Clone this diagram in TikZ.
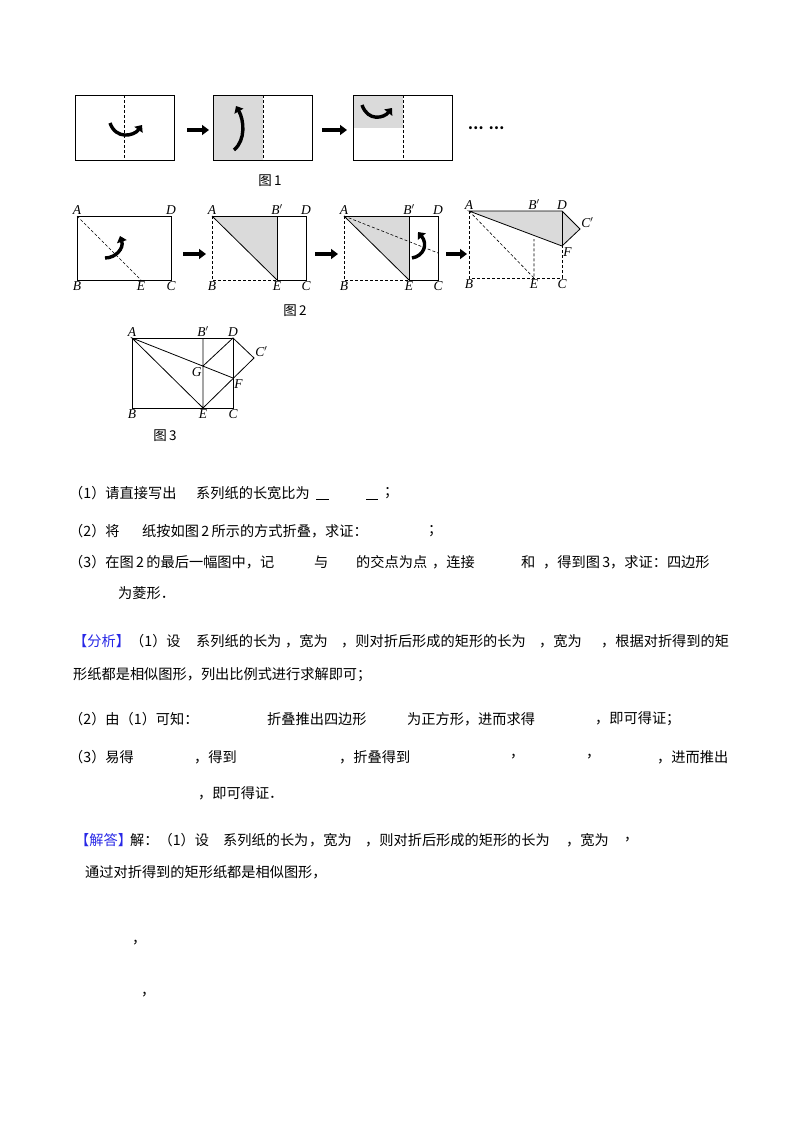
\documentclass[tikz,border=0pt]{standalone}
\usepackage{fontspec}
\setmainfont{Liberation Serif}
\newfontfamily\cjk{Noto Sans CJK SC}
\usetikzlibrary{arrows.meta}
\definecolor{fold}{RGB}{218,218,218}
\definecolor{tagblue}{RGB}{40,40,230}
\newcommand{\pr}{$'$}
\begin{document}
\begin{tikzpicture}[x=1pt,y=-1pt,
  box/.style={draw,line width=0.8pt},
  fl/.style={densely dashed,line width=0.6pt},
  ln/.style={line width=0.8pt},
  blk/.style={line width=3.5pt,-{Triangle[length=7pt,width=10pt]}},
  curv/.style={line width=3.4pt,-{Triangle[length=6pt,width=10pt]}},
  lab/.style={font=\itshape\fontsize{13.5}{13.5}\selectfont,inner sep=1.2pt},
  figcap/.style={font=\cjk\fontsize{13.5}{13.5}\selectfont,inner sep=0pt},
  tx/.style={font=\cjk\fontsize{14.2}{15}\selectfont,inner sep=0pt,anchor=west}]
\useasboundingbox (0,0) rectangle (800,1132);
% ---------- Figure 1
\draw[box] (75,95) rectangle (174,160);
\draw[fl] (124,95) -- (124,160);
\draw[curv] (110,123) .. controls (116,140) and (134,136) .. (142,125);
\fill[fold] (213,95) rectangle (263,160);
\draw[box] (213,95) rectangle (312,160);
\draw[fl] (263,95) -- (263,160);
\draw[curv] (234,150) .. controls (246,140) and (244,120) .. (236,106);
\fill[fold] (353,95) rectangle (403,128);
\draw[box] (353,95) rectangle (452,160);
\draw[fl] (403,95) -- (403,160);
\draw[curv] (362,105) .. controls (368,122) and (384,118) .. (392,108);
\coordinate (a1s) at (187,130); \coordinate (a1e) at (209,130);
\coordinate (a2s) at (322,130); \coordinate (a2e) at (347,130);
\draw[blk] (a1s) -- (a1e);
\draw[blk] (a2s) -- (a2e);
\node[figcap] (dots) at (486,128) {\fontsize{14}{14}\selectfont \textbf{…}\hspace{5pt}\textbf{…}};
\node[figcap] (f1) at (270,181) {图\,1};
% ---------- Figure 2, panel 1
\coordinate (A1) at (77,216); \coordinate (D1) at (171,216);
\coordinate (B1) at (77,280); \coordinate (C1) at (171,280);
\coordinate (E1) at (141,280);
\draw[box] (A1) rectangle (C1);
\draw[fl] (A1) -- (E1);
\draw[curv] (105,258) .. controls (116,258) and (124,248) .. (120,236);
\node[lab,above] at (A1) {A}; \node[lab,above] at (D1) {D};
\node[lab,below] at (B1) {B}; \node[lab,below] at (E1) {E}; \node[lab,below] at (C1) {C};
% panel 2
\coordinate (A2) at (212,216); \coordinate (D2) at (306,216);
\coordinate (B2) at (212,280); \coordinate (C2) at (306,280);
\coordinate (P2) at (277,216); \coordinate (E2) at (277,280);
\fill[fold] (A2) -- (P2) -- (E2) -- cycle;
\draw[ln] (A2) -- (D2) -- (C2) -- (E2) -- (P2);
\draw[ln] (A2) -- (E2);
\draw[fl] (A2) -- (B2) -- (E2);
\node[lab,above] at (A2) {A}; \node[lab,above] at (P2) {B\pr}; \node[lab,above] at (D2) {D};
\node[lab,below] at (B2) {B}; \node[lab,below] at (E2) {E}; \node[lab,below] at (C2) {C};
% panel 3
\coordinate (A3) at (344,216); \coordinate (D3) at (438,216);
\coordinate (B3) at (344,280); \coordinate (C3) at (438,280);
\coordinate (P3) at (409,216); \coordinate (E3) at (409,280);
\coordinate (R3) at (438,253);
\fill[fold] (A3) -- (P3) -- (E3) -- cycle;
\draw[ln] (A3) -- (D3) -- (C3) -- (E3) -- (P3);
\draw[ln] (A3) -- (E3);
\draw[fl] (A3) -- (B3) -- (E3);
\draw[fl] (A3) -- (R3);
\draw[curv] (412,258) .. controls (424,256) and (428,244) .. (418,232);
\node[lab,above] at (A3) {A}; \node[lab,above] at (P3) {B\pr}; \node[lab,above] at (D3) {D};
\node[lab,below] at (B3) {B}; \node[lab,below] at (E3) {E}; \node[lab,below] at (C3) {C};
% panel 4
\coordinate (A4) at (469,211); \coordinate (D4) at (562,211);
\coordinate (B4) at (469,278); \coordinate (C4) at (562,278);
\coordinate (E4) at (534,278); \coordinate (P4) at (534,211);
\coordinate (F4) at (562,246); \coordinate (Q4) at (580,229);
\coordinate (G4) at (534,239);
\fill[fold] (A4) -- (D4) -- (Q4) -- (F4) -- cycle;
\draw[ln] (A4) -- (D4) -- (Q4) -- (F4) -- cycle;
\draw[ln] (D4) -- (F4);
\draw[fl] (A4) -- (B4) -- (C4) -- (F4);
\draw[fl] (A4) -- (E4) -- (G4);
\node[lab,above] at (A4) {A}; \node[lab,above] at (P4) {B\pr}; \node[lab,above] at (D4) {D};
\node[lab,above right] at (Q4) {C\pr}; \node[lab,below right] at (F4) {F};
\node[lab,below] at (B4) {B}; \node[lab,below] at (E4) {E}; \node[lab,below] at (C4) {C};
\coordinate (b1s) at (183,254); \coordinate (b1e) at (206,254);
\coordinate (b2s) at (315,254); \coordinate (b2e) at (338,254);
\coordinate (b3s) at (446,254); \coordinate (b3e) at (467,254);
\draw[blk] (b1s) -- (b1e); \draw[blk] (b2s) -- (b2e); \draw[blk] (b3s) -- (b3e);
\node[figcap] (f2) at (295,311) {图\,2};
% ---------- Figure 3
\coordinate (A) at (132,338); \coordinate (D) at (233,338);
\coordinate (B) at (132,408); \coordinate (C) at (233,408);
\coordinate (P) at (203,338); \coordinate (E) at (203,408);
\coordinate (G) at (203,366); \coordinate (F) at (233,378);
\coordinate (Q) at (254,358);
\draw[ln] (A) rectangle (C);
\draw[ln] (P) -- (E) -- (A) -- (F);
\draw[ln] (E) -- (Q) -- (D) -- (G);
\node[lab,above] at (A) {A}; \node[lab,above] at (P) {B\pr}; \node[lab,above] at (D) {D};
\node[lab,above right] at (Q) {C\pr}; \node[lab,below left] at (G) {G}; \node[lab,below right] at (F) {F};
\node[lab,below] at (B) {B}; \node[lab,below] at (E) {E}; \node[lab,below] at (C) {C};
\node[figcap] (f3) at (165,436) {图\,3};
% ---------- Text
\node[tx] (t1a) at (69,493) {（1）请直接写出};
\node[tx] (t1b) at (196,493) {系列纸的长宽比为};
\draw[line width=0.9pt] (316,499) -- (329,499) (366,499) -- (378,499);
\node[tx] (t1c) at (384,493) {；};
\node[tx] (t2a) at (69,531) {（2）将};
\node[tx] (t2b) at (142,531) {纸按如图\,2\,所示的方式折叠，求证：};
\node[tx] (t2c) at (428,531) {；};
\node[tx] (t3a) at (69,562) {（3）在图\,2\,的最后一幅图中，记};
\node[tx] (t3b) at (314,562) {与};
\node[tx] (t3c) at (356,562) {的交点为点};
\node[tx] (t3d) at (432,562) {，连接};
\node[tx] (t3e) at (521,562) {和};
\node[tx] (t3f) at (543,562) {，得到图\,3，求证：四边形};
\node[tx] (t4) at (118,593) {为菱形．};
\node[tx,text=tagblue] (fx) at (73,641) {【分析】};
\node[tx] (fa) at (130,641) {（1）设};
\node[tx] (fb) at (196,641) {系列纸的长为};
\node[tx] (fc) at (285,641) {，宽为};
\node[tx] (fd) at (341,641) {，则对折后形成的矩形的长为};
\node[tx] (fe) at (539,641) {，宽为};
\node[tx] (ff) at (601,641) {，根据对折得到的矩};
\node[tx] (fg) at (73,675) {形纸都是相似图形，列出比例式进行求解即可；};
\node[tx] (g2a) at (69,719) {（2）由（1）可知：};
\node[tx] (g2b) at (267,719) {折叠推出四边形};
\node[tx] (g2c) at (407,719) {为正方形，进而求得};
\node[tx] (g2d) at (595,719) {，即可得证；};
\node[tx] (g3a) at (69,757) {（3）易得};
\node[tx] (g3b) at (194,757) {，得到};
\node[tx] (g3c) at (339,757) {，折叠得到};
\node[tx] (g3d) at (510,757) {，};
\node[tx] (g3e) at (586,757) {，};
\node[tx] (g3f) at (657,757) {，进而推出};
\node[tx] (g4) at (198,793) {，即可得证．};
\node[tx,text=tagblue] (jx) at (75,840) {【解答】};
\node[tx] (ja) at (130,840) {解：（1）设};
\node[tx] (jb) at (223,840) {系列纸的长为};
\node[tx] (jc) at (309,840) {，宽为};
\node[tx] (jd) at (365,840) {，则对折后形成的矩形的长为};
\node[tx] (je) at (566,840) {，宽为};
\node[tx] (jf) at (624,840) {，};
\node[tx] (jg) at (85,872) {通过对折得到的矩形纸都是相似图形，};
\node[tx] (k1) at (132,943) {，};
\node[tx] (k2) at (141,995) {，};
\end{tikzpicture}
\end{document}
